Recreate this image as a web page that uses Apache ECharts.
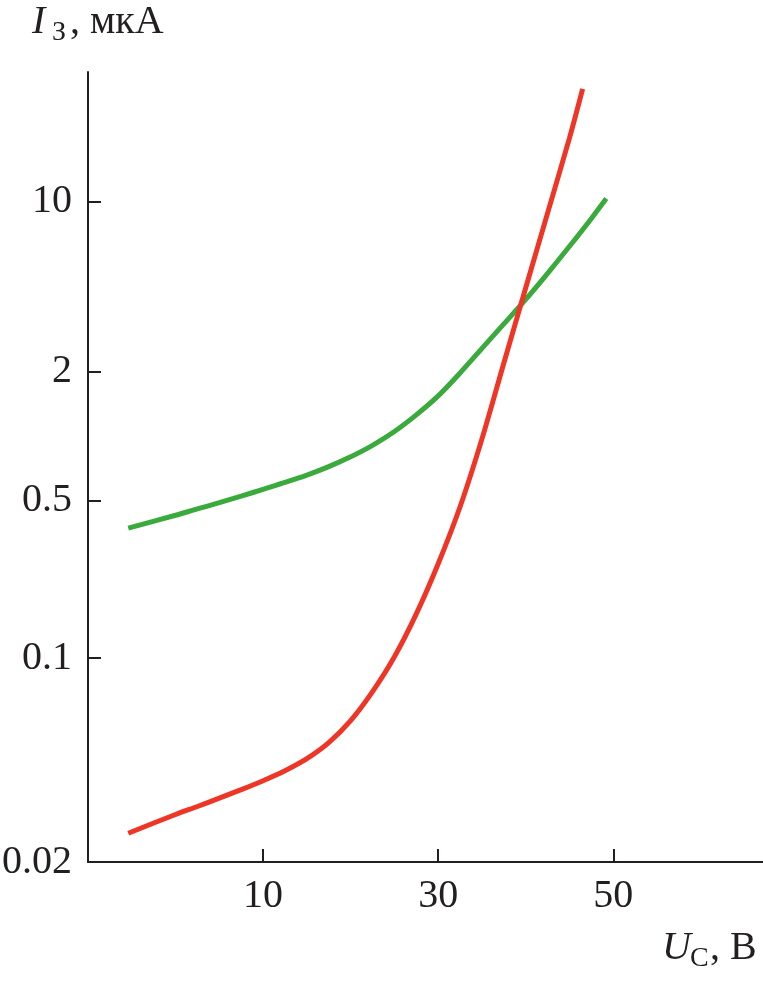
<!DOCTYPE html>
<html><head><meta charset="utf-8">
<script src="https://cdn.jsdelivr.net/npm/echarts@6/dist/echarts.min.js"></script>
<style>html,body{margin:0;padding:0;background:#fff}#c{width:763px;height:981px}</style>
</head><body><div id="c"></div>
<script>
// ---- data ----
const voltsGreen = [-5.4, 0, 2.5, 5, 7.5, 10, 12.5, 15, 17.5, 20, 22.5, 25, 27.5, 30, 32.5, 35, 37.5, 40, 42.5, 45, 47.5, 49.2];
const currentGreen = [0.377, 0.430, 0.459, 0.489, 0.524, 0.564, 0.607, 0.657, 0.720, 0.800, 0.905, 1.05, 1.256, 1.54, 1.97, 2.49, 3.14, 3.96, 5.07, 6.55, 8.53, 10.3];
const voltsRed = [-5.4, 0, 2.5, 5, 7.5, 10, 12.5, 15, 17.5, 20, 22.5, 25, 27.5, 30, 32.5, 35, 37.5, 40, 42.5, 45, 46.5];
const currentRed = [0.0251, 0.0291, 0.0310, 0.0331, 0.0354, 0.0380, 0.0411, 0.0452, 0.0513, 0.0610, 0.0767, 0.1013, 0.157, 0.262, 0.469, 0.970, 2.17, 4.42, 8.99, 18.3, 29.1];
const yTickLabels = [0.02, 0.1, 0.5, 2, 10];
const xTickLabels = [10, 30, 50];

// ---- axis layout: the figure's (non-uniform) logarithmic current axis ----
const yTickPos = [0, 0.3088, 0.5474, 0.7427, 1];
const yAxisTop = 1.1963;
const logTicks = yTickLabels.map(Math.log10);
function toAxis(v) {
  const L = Math.log10(v);
  let i = 0;
  while (i < logTicks.length - 2 && L > logTicks[i + 1]) i++;
  return yTickPos[i] + (L - logTicks[i]) * (yTickPos[i + 1] - yTickPos[i]) / (logTicks[i + 1] - logTicks[i]);
}
function labelFor(pos) {
  for (let i = 0; i < yTickPos.length; i++) if (Math.abs(yTickPos[i] - pos) < 1e-6) return String(yTickLabels[i]);
  return '';
}
const pairs = (xs, ys) => xs.map((x, i) => [x, toAxis(ys[i])]);

const INK = '#231f20';
const SERIF = '"Liberation Serif", "Times New Roman", serif';

const chart = echarts.init(document.getElementById('c'), null, {renderer: 'canvas'});
chart.setOption({
  animation: false,
  backgroundColor: '#fff',
  grid: {left: 88, right: 0, top: 72, bottom: 119, containLabel: false, outerBoundsMode: 'none'},
  xAxis: {
    type: 'value', min: -10, max: 67.1,
    axisLine: {show: true, onZero: false, lineStyle: {color: INK, width: 2}},
    axisTick: {show: true, inside: true, length: 13, lineStyle: {color: INK, width: 2}, customValues: xTickLabels},
    axisLabel: {customValues: xTickLabels, fontSize: 40, fontFamily: SERIF, color: INK, margin: 14},
    splitLine: {show: false}
  },
  yAxis: {
    type: 'value', min: 0, max: yAxisTop,
    axisLine: {show: true, onZero: false, lineStyle: {color: INK, width: 2}},
    axisTick: {show: true, inside: true, length: 13, lineStyle: {color: INK, width: 2}, customValues: yTickPos},
    axisLabel: {customValues: yTickPos, formatter: labelFor, fontSize: 40, fontFamily: SERIF, color: INK, margin: 16},
    splitLine: {show: false}
  },
  series: [
    {type: 'line', data: pairs(voltsGreen, currentGreen), smooth: 0.3, showSymbol: false,
     lineStyle: {color: '#3aaa3c', width: 5}, itemStyle: {color: '#3aaa3c'}},
    {type: 'line', data: pairs(voltsRed, currentRed), smooth: 0.3, showSymbol: false,
     lineStyle: {color: '#ee3526', width: 5}, itemStyle: {color: '#ee3526'}}
  ],
  graphic: [
    {type: 'text', left: 32, top: 2, style: {text: 'I', font: 'italic 40px ' + SERIF, fill: INK}},
    {type: 'text', left: 52, top: 19, style: {text: 'З', font: '28px ' + SERIF, fill: INK}},
    {type: 'text', left: 70, top: 2, style: {text: ', мкА', font: '40px ' + SERIF, fill: INK}},
    {type: 'text', left: 662, top: 928, style: {text: 'U', font: 'italic 40px ' + SERIF, fill: INK}},
    {type: 'text', left: 690, top: 945, style: {text: 'С', font: '28px ' + SERIF, fill: INK}},
    {type: 'text', left: 710, top: 928, style: {text: ', В', font: '40px ' + SERIF, fill: INK}}
  ]
});
</script></body></html>
